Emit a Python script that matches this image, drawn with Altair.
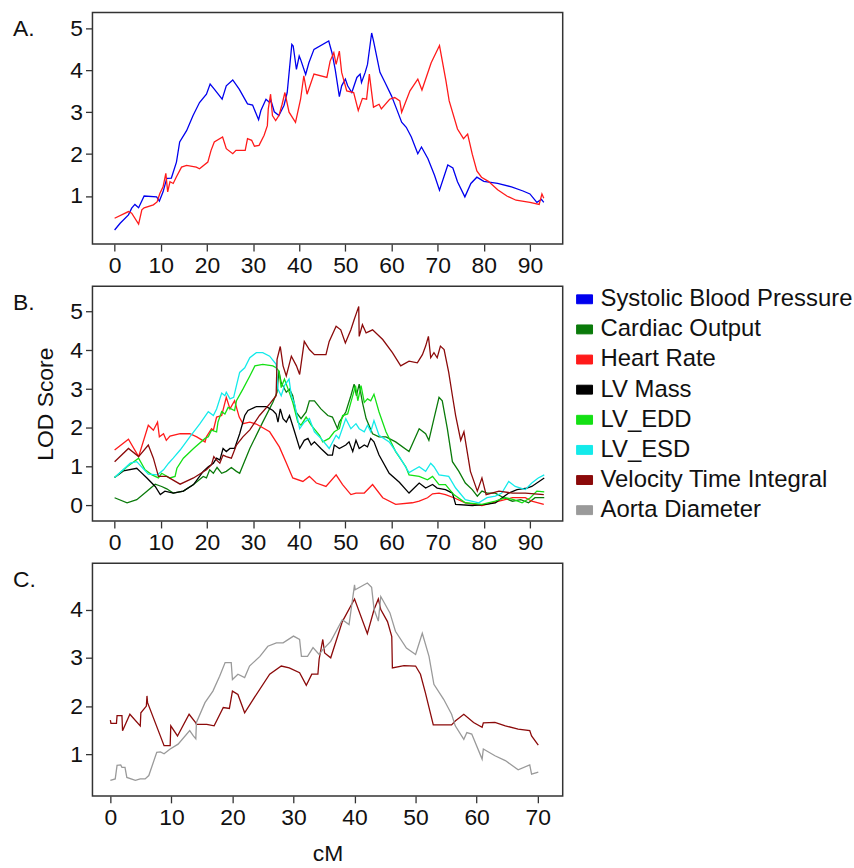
import altair as alt
import pandas as pd

FONT = "Liberation Sans"

SERIES = ["Systolic Blood Pressure", "Cardiac Output", "Heart Rate", "LV Mass",
          "LV_EDD", "LV_ESD", "Velocity Time Integral", "Aorta Diameter"]
COLORS = ["#0000ee", "#0a7a0a", "#ff1a1a", "#000000",
          "#14e014", "#14eaea", "#8b0a0a", "#9a9a9a"]
RECT = "M-1,-0.56H1V0.56H-1Z"

# ---------------- Panel A ----------------
A_SBP = [(0,0.19),(1.2,0.35),(3.0,0.55),(3.7,0.71),(4.4,0.80),(5.2,0.72),(6.4,1.0),(9.1,0.98),
         (9.7,0.88),(10.5,1.10),(11.3,1.42),(12.3,1.43),(13.4,1.81),(14.1,2.29),(15.6,2.56),
         (17.0,2.92),(18.4,3.23),(19.9,3.43),(20.7,3.67),(21.6,3.55),(23.3,3.31),(24.2,3.63),
         (25.6,3.77),(27.0,3.55),(28.8,3.2),(29.9,3.17),(31.2,2.82),(31.7,3.04),(32.8,3.31),
         (33.6,3.23),(33.8,3.31),(34.6,3.01),(35.6,2.92),(36.7,3.16),(37.4,3.47),(38.4,4.62),
         (38.7,4.58),(39.4,4.02),(40.0,4.34),(40.3,4.26),(41.4,3.9),(42.1,4.18),(43.2,4.5),
         (46.4,4.7),(47.1,4.42),(47.8,4.02),(48.7,3.37),(49.2,3.63),(50.0,3.79),(50.5,3.63),
         (51.4,3.47),(52.5,3.83),(53.2,3.91),(53.5,3.71),(54.3,3.95),(54.8,4.14),(55.7,4.89),
         (56.1,4.70),(57.5,3.95),(58.6,3.71),(60.0,3.39),(61.1,3.08),(62.2,2.76),(63.2,2.64),
         (64.3,2.41),(65.7,2.01),(66.5,2.17),(67.9,1.89),(69.3,1.5),(70.4,1.14),(72.2,1.74),
         (73.3,1.67),(74.3,1.34),(75.9,0.98),(77.2,1.3),(78.5,1.45),(80.0,1.35),(83.0,1.3),
         (86.0,1.22),(88.5,1.12),(90.0,1.05),(91.5,0.85),(92.5,0.92),(93.0,0.85)]
A_HR = [(0,0.47),(3.0,0.63),(3.7,0.59),(5.2,0.33),(5.9,0.67),(6.4,0.72),(8.4,0.79),(9.2,0.86),
        (9.8,1.06),(10.5,1.22),(11.1,1.54),(11.5,1.10),(12.0,1.34),(12.7,1.30),(13.4,1.46),
        (14.5,1.69),(15.6,1.73),(17.7,1.69),(18.4,1.65),(20.2,1.81),(20.9,2.09),(21.6,2.29),
        (23.4,2.41),(24.2,2.13),(25.6,2.01),(26.3,2.09),(28.3,2.09),(28.8,2.37),(29.7,2.33),
        (30.3,2.19),(31.3,2.21),(32.4,2.45),(33.1,2.68),(33.3,3.08),(33.8,3.43),(34.2,2.92),
        (34.9,2.80),(35.6,2.92),(36.3,3.19),(36.9,3.47),(37.8,3.0),(39.2,2.76),(40.3,3.31),
        (41.0,3.87),(41.7,3.43),(43.2,3.91),(46.0,3.83),(46.7,4.22),(47.5,4.42),(48.0,4.14),
        (48.7,4.46),(49.2,3.95),(50.3,3.51),(51.8,3.47),(52.8,3.04),(53.7,3.33),(54.6,3.31),
        (55.2,3.91),(56.1,3.12),(57.3,3.19),(57.8,3.08),(59.6,3.31),(60.7,3.35),(61.8,3.27),
        (62.2,3.0),(64.0,3.51),(65.7,3.79),(66.6,3.53),(68.6,4.18),(70.4,4.59),(71.8,3.75),
        (72.5,3.27),(74.3,2.6),(75.6,2.37),(76.5,2.48),(77.5,2.0),(78.5,1.6),(79.5,1.45),
        (81.0,1.35),(83.0,1.15),(85.0,1.0),(87.0,0.9),(90.0,0.85),(92.0,0.8),(92.6,1.05),(93.0,0.95)]

# ---------------- Panel B ----------------
B_CO = [(0,0.2),(2.7,0.07),(4.8,0.15),(7.0,0.37),(8.8,0.55),(10.2,0.49),(11.3,0.43),(12.7,0.32),
        (14.9,0.37),(17.1,0.54),(19.2,0.75),(19.9,0.71),(20.6,0.92),(21.4,0.83),(22.2,0.98),
        (23.2,0.83),(24.2,0.88),(25.3,0.98),(26.4,0.88),(27.1,0.83),(29.3,1.47),(32.1,2.15),
        (34.3,2.66),(35.2,2.92),(35.6,3.47),(36.1,3.17),(37.2,2.92),(37.9,3.0),(38.6,2.83),
        (39.3,2.41),(40.4,2.24),(41.5,2.41),(42.2,2.7),(43.3,2.7),(44.7,2.49),(46.2,2.32),
        (47.2,2.28),(48.3,1.98),(48.7,2.15),(50.1,2.41),(51.2,2.83),(51.9,3.13),(52.4,2.83),
        (53.0,3.13),(53.7,2.66),(54.5,2.24),(55.9,1.85),(57.3,1.77),(58.8,1.77),(60.9,1.64),
        (63.8,1.39),(66.0,1.98),(67.4,1.85),(68.1,1.68),(69.2,2.24),(70.3,2.79),(71.0,2.70),
        (72.1,1.98),(73.2,1.13),(74.6,0.88),(76.0,0.58),(77.5,0.41),(78.6,0.24),(79.6,0.37),
        (80.7,0.32),(82.5,0.32),(84.3,0.2),(86.2,0.11),(88.0,0.15),(89.7,0.07),(91.1,0.2),(93.1,0.2)]
B_HR = [(0,1.43),(3.0,1.71),(5.2,1.26),(7.3,2.07),(8.4,1.94),(9.3,2.15),(9.7,1.77),(10.6,1.85),
        (11.2,1.68),(12.0,1.79),(14.2,1.85),(16.3,1.85),(17.8,1.77),(19.6,1.64),(19.9,1.77),
        (21.0,1.98),(21.4,1.94),(22.1,2.28),(23.2,2.32),(24.2,2.79),(25.0,2.49),(26.0,2.70),
        (27.0,2.28),(27.8,2.11),(29.3,2.15),(30.7,2.1),(33.6,1.90),(35.0,1.64),(35.7,1.51),
        (37.1,1.13),(38.6,0.71),(40.8,0.62),(42.2,0.75),(43.7,0.58),(45.8,0.49),(48.0,0.79),
        (49.4,0.54),(51.2,0.28),(52.3,0.32),(54.1,0.32),(55.9,0.54),(58.1,0.2),(60.9,0.03),
        (64.5,0.07),(66.0,0.11),(67.8,0.2),(68.9,0.30),(70.3,0.32),(71.7,0.28),(73.5,0.2),
        (76.0,0.07),(79.6,0.0),(83.3,0.11),(86.2,0.2),(89.0,0.2),(90.4,0.11),(93.0,0.03)]
B_LVM = [(0,0.72),(1.9,0.89),(4.8,0.96),(5.5,0.88),(7.0,0.71),(8.8,0.49),(9.9,0.28),(10.9,0.37),
         (12.7,0.32),(14.9,0.37),(17.1,0.54),(19.2,0.88),(20.3,1.0),(21.4,1.09),(22.1,1.22),
         (22.8,1.17),(23.5,1.47),(24.2,1.39),(25.0,1.47),(26.0,1.47),(27.1,1.85),(28.2,2.32),
         (28.9,2.45),(30.7,2.55),(32.9,2.55),(34.3,2.45),(35.0,2.36),(35.4,2.15),(35.9,2.49),
         (36.5,2.24),(37.2,2.15),(37.9,2.32),(39.0,1.9),(40.1,1.47),(41.1,1.68),(41.9,1.73),
         (42.6,1.56),(43.3,1.64),(44.7,1.47),(46.2,1.30),(47.2,1.30),(47.6,1.56),(48.7,1.47),
         (50.1,1.56),(50.8,1.64),(51.6,1.39),(52.3,1.68),(53.0,1.47),(54.1,1.56),(54.8,1.51),
         (55.5,1.73),(56.2,1.64),(57.3,1.30),(59.5,0.83),(61.7,0.6),(63.8,0.32),(66.0,0.58),
         (67.4,0.45),(68.9,0.54),(69.9,0.45),(71.7,0.41),(73.2,0.32),(73.9,0.03),(77.5,0.0),
         (80.4,0.03),(82.5,0.07),(85.4,0.32),(87.2,0.41),(89.3,0.45),(90.4,0.49),(93.1,0.71)]
B_EDD = [(0,0.72),(2.7,1.0),(5.2,1.22),(6.6,0.92),(8.1,0.79),(9.5,0.71),(10.2,0.83),(12.0,0.71),
         (13.1,0.75),(13.5,0.96),(14.9,1.22),(17.1,1.47),(19.6,1.73),(20.3,1.77),(21.0,1.94),
         (22.1,1.9),(22.4,2.15),(23.2,2.42),(23.9,2.36),(24.6,2.53),(26.0,2.45),(26.4,2.70),
         (27.8,3.0),(29.3,3.34),(30.4,3.6),(32.1,3.64),(34.3,3.6),(35.0,3.55),(35.6,3.47),
         (36.1,3.04),(36.8,3.26),(37.6,3.0),(38.6,2.66),(39.7,2.15),(40.4,2.07),(41.5,2.28),
         (42.6,2.07),(44.4,1.81),(45.1,1.64),(46.5,1.73),(47.6,1.9),(48.7,1.98),(49.4,2.32),
         (50.5,2.36),(51.2,2.66),(52.2,3.09),(52.7,2.70),(53.4,3.09),(54.1,2.66),(54.8,2.75),
         (55.5,2.70),(56.2,2.87),(57.3,2.41),(58.8,1.90),(60.9,1.39),(63.1,1.0),(63.8,0.79),
         (66.0,0.75),(67.8,0.66),(68.9,0.75),(70.3,0.54),(71.7,0.54),(73.5,0.28),(76.0,0.07),
         (79.6,0.03),(82.5,0.11),(84.7,0.2),(86.5,0.15),(88.3,0.07),(90.1,0.2),(91.5,0.37),(93.1,0.35)]
B_ESD = [(0,0.72),(3.4,1.09),(4.8,1.13),(7.3,0.81),(9.3,0.79),(10.6,0.92),(11.7,1.09),(12.7,1.22),
         (14.2,1.43),(16.3,1.77),(18.5,2.11),(20.3,2.42),(21.4,2.32),(22.1,2.49),(23.2,2.90),
         (23.9,2.83),(24.2,2.92),(25.0,2.75),(25.8,2.79),(26.4,3.09),(27.1,3.43),(28.2,3.55),
         (29.3,3.81),(30.7,3.94),(32.1,3.94),(33.6,3.85),(35.0,3.64),(35.4,3.00),(36.1,2.83),
         (36.8,3.09),(37.8,3.26),(38.3,2.83),(39.0,2.62),(40.1,1.98),(41.1,2.15),(42.2,2.24),
         (43.3,1.9),(44.7,1.73),(45.9,1.56),(46.5,1.47),(48.0,1.81),(48.6,1.73),(50.1,2.24),
         (51.2,1.98),(52.3,2.11),(53.0,1.98),(54.1,1.9),(54.8,2.07),(55.5,1.9),(56.2,2.19),
         (57.3,1.81),(59.5,1.64),(61.7,1.26),(63.8,0.85),(66.0,1.0),(67.4,0.88),(68.5,1.09),
         (69.2,1.0),(70.3,0.79),(72.4,0.75),(73.9,0.45),(76.0,0.15),(78.9,0.07),(80.7,0.2),
         (82.5,0.24),(83.9,0.32),(85.4,0.62),(86.8,0.49),(89.0,0.41),(90.4,0.58),(91.8,0.71),(93.1,0.79)]
B_VTI = [(0,1.13),(3.0,1.47),(5.2,1.26),(7.3,1.56),(8.4,1.22),(9.5,0.75),(11.3,0.75),(14.2,0.55),
         (17.1,0.71),(19.9,0.92),(21.0,1.05),(21.5,1.26),(22.1,1.17),(22.8,1.09),(23.5,1.30),
         (24.2,1.26),(25.3,1.22),(26.4,1.56),(27.8,1.77),(29.3,1.95),(31.4,2.32),(33.6,2.62),
         (35.0,2.83),(35.2,3.77),(35.9,4.1),(36.5,3.6),(37.2,3.34),(38.3,3.85),(39.4,3.6),
         (40.1,3.38),(41.1,4.23),(42.2,4.02),(43.3,3.89),(45.8,3.89),(46.5,4.23),(48.0,4.62),
         (49.0,4.53),(50.0,4.19),(51.2,4.53),(51.9,4.79),(52.4,4.96),(52.9,5.13),(53.0,4.36),
         (53.7,4.66),(54.5,4.45),(55.9,4.53),(58.1,4.28),(60.2,3.94),(62.0,3.6),(63.8,3.72),
         (65.6,3.68),(66.7,3.89),(67.4,4.11),(68.0,4.36),(68.5,3.81),(69.2,3.94),(69.9,3.81),
         (70.6,4.11),(71.4,4.02),(72.4,3.43),(73.2,2.83),(73.9,2.32),(75.0,1.68),(75.7,1.90),
         (76.4,1.39),(77.1,0.88),(78.6,0.37),(79.6,0.71),(80.5,0.28),(83.3,0.37),(86.2,0.32),
         (89.0,0.32),(93.0,0.28)]

# ---------------- Panel C ----------------
C_VTI = [(0,1.71),(0.1,1.64),(1.0,1.64),(1.1,1.80),(1.9,1.80),(2.0,1.49),(3.2,1.83),(4.9,1.59),
         (5.0,1.86),(5.9,2.0),(6.0,2.21),(6.1,2.07),(8.8,1.18),(9.8,1.18),(9.9,1.59),(11.0,1.38),
         (12.9,1.83),(14.0,1.65),(14.1,1.62),(15.8,1.62),(17.0,1.59),(18.5,1.97),(19.5,1.95),
         (20.0,2.31),(20.9,2.24),(22.0,1.86),(23.4,2.14),(26.1,2.66),(28.0,2.83),(29.3,2.79),
         (31.0,2.69),(32.1,2.43),(33.0,2.66),(34.0,2.66),(34.2,2.97),(34.8,3.38),(35.1,3.10),
         (36.1,3.0),(38.0,3.75),(40.0,4.22),(42.1,3.50),(43.2,4.0),(43.9,4.22),(44.3,4.0),
         (45.4,3.75),(46.1,3.44),(46.2,2.79),(48.1,2.84),(50.0,2.83),(50.8,2.66),(51.6,2.28),
         (52.9,1.61),(55.9,1.61),(56.5,1.69),(57.9,1.83),(59.5,1.66),(60.9,1.56),(61.1,1.65),
         (63.0,1.66),(64.7,1.59),(66.8,1.52),(68.7,1.49),(69.0,1.38),(70.1,1.19)]
C_AO = [(0,0.46),(0.8,0.49),(1.1,0.77),(1.7,0.78),(1.9,0.73),(2.4,0.73),(2.7,0.52),(4.1,0.46),
        (4.9,0.49),(5.7,0.49),(6.3,0.56),(7.6,1.04),(8.2,1.05),(8.8,1.01),(9.8,1.11),(11.1,1.21),
        (13.0,1.49),(13.6,1.38),(14.0,1.32),(14.1,1.66),(15.5,2.07),(16.8,2.31),(17.9,2.62),
        (18.8,2.90),(19.8,2.90),(20.0,2.55),(20.9,2.66),(22.0,2.59),(22.8,2.83),(23.4,2.90),
        (24.5,3.03),(25.8,3.24),(27.2,3.31),(28.3,3.31),(30.0,3.45),(31.0,3.38),(31.3,3.03),
        (32.3,3.03),(33.2,3.21),(34.2,3.07),(34.8,3.17),(36.1,3.34),(38.0,3.79),(39.1,3.69),
        (40.0,4.51),(40.1,4.41),(42.1,4.55),(42.8,4.46),(43.2,4.0),(43.9,3.76),(44.3,4.27),
        (45.8,3.93),(46.7,3.55),(48.5,3.20),(50.0,3.07),(51.1,3.51),(52.2,3.03),(53.0,2.45),
        (54.6,2.14),(55.9,1.83),(56.5,1.59),(57.9,1.31),(58.4,1.45),(59.2,1.42),(60.9,0.90),
        (61.1,1.11),(63.0,0.97),(64.7,0.87),(66.8,0.68),(68.7,0.78),(69.0,0.59),(70.1,0.63)]

X_TICKS_AB = [0, 10, 20, 30, 40, 50, 60, 70, 80, 90]
X_TICKS_C = [0, 10, 20, 30, 40, 50, 60, 70]
Y_TICKS_A = [1, 2, 3, 4, 5]
Y_TICKS_B = [0, 1, 2, 3, 4, 5]
Y_TICKS_C = [1, 2, 3, 4]

PANEL_SERIES = [
    ("A", "Systolic Blood Pressure", A_SBP),
    ("A", "Heart Rate", A_HR),
    ("B", "Cardiac Output", B_CO),
    ("B", "Heart Rate", B_HR),
    ("B", "LV Mass", B_LVM),
    ("B", "LV_EDD", B_EDD),
    ("B", "LV_ESD", B_ESD),
    ("B", "Velocity Time Integral", B_VTI),
    ("C", "Velocity Time Integral", C_VTI),
    ("C", "Aorta Diameter", C_AO),
]

rows = []
for panel, name, pts in PANEL_SERIES:
    for i, (x, y) in enumerate(pts):
        rows.append({"panel": panel, "series": name, "x": x, "y": y, "i": i})
df = pd.DataFrame(rows)

color_scale = alt.Scale(domain=SERIES, range=COLORS)
W = 473
H_A, H_B, H_C = 233, 236, 234
GAP = 42.5


def panel(p, width, height, xdom, ydom, xticks, yticks, label, ytitle=None, xtitle=None, legend=False):
    xaxis_kw = dict(values=xticks, tickSize=7, labelPadding=4, labelFontSize=23,
                    domain=False, grid=False, labelFlush=False)
    yaxis_kw = dict(values=yticks, tickSize=7, labelPadding=3, labelFontSize=23,
                    domain=False, grid=False, labelFlush=False)
    if xtitle:
        xaxis_kw.update(title=xtitle, titleFontSize=23, titleFontWeight="normal",
                        titlePadding=13, titleColor="#111")
    else:
        xaxis_kw.update(title=None)
    if ytitle:
        yaxis_kw.update(title=ytitle, titleFontSize=23, titleFontWeight="normal",
                        titlePadding=12, titleColor="#111")
    else:
        yaxis_kw.update(title=None)

    lines = alt.Chart(df).transform_filter(alt.datum.panel == p).mark_line(
        strokeWidth=1.3, clip=True
    ).encode(
        x=alt.X("x:Q", scale=alt.Scale(domain=xdom, nice=False, zero=False), axis=alt.Axis(**xaxis_kw)),
        y=alt.Y("y:Q", scale=alt.Scale(domain=ydom, nice=False, zero=False), axis=alt.Axis(**yaxis_kw)),
        color=alt.Color("series:N", scale=color_scale, legend=None),
        order="i:Q",
    )
    lab = alt.Chart(pd.DataFrame({"t": [label]})).mark_text(
        align="left", baseline="middle", fontSize=23, font=FONT, color="#111"
    ).encode(x=alt.value(-80), y=alt.value(17), text="t:N")
    layers = [lines, lab]
    if legend:
        # legend-bearing layer goes first so that its (enabled) legend wins the merge
        leg = alt.Chart(pd.DataFrame({"series": SERIES})).mark_point(
            shape=RECT, size=0, opacity=1, filled=True
        ).encode(
            x=alt.value(5), y=alt.value(5),
            color=alt.Color("series:N", scale=color_scale, legend=alt.Legend(
                title=None, orient="none", legendX=483, legendY=1, padding=0,
                symbolType=RECT, symbolSize=256,
                symbolStrokeColor="#222", symbolStrokeWidth=1, symbolOpacity=1,
                labelFont=FONT, labelFontSize=24, labelColor="#111",
                labelOffset=4, rowPadding=6.3, labelLimit=400,
            ))
        )
        layers = [leg] + layers
    return alt.layer(*layers).properties(width=width, height=height)


pA = panel("A", W, H_A, [-4.8, 97.1], [-0.147, 5.38], X_TICKS_AB, Y_TICKS_A, "A.")
pB = panel("B", W, H_B, [-4.8, 97.1], [-0.40, 5.65], X_TICKS_AB, Y_TICKS_B, "B.",
           ytitle="LOD Score", legend=True)
pC = panel("C", W, H_C, [-2.93, 74.1], [0.138, 4.96], X_TICKS_C, Y_TICKS_C, "C.", xtitle="cM")

chart = alt.vconcat(pA, pB, pC, spacing=GAP, bounds="flush").resolve_legend(
    color="independent"
).properties(
    padding={"left": 12, "top": 9, "right": 0, "bottom": 0},
    background="white",
).configure_view(
    stroke="#333", strokeWidth=1.5
).configure_axis(
    labelFont=FONT, titleFont=FONT, labelColor="#111", tickColor="#333", tickWidth=1.3
)

chart.save("out.html", embed_options={"renderer": "svg", "actions": False})
